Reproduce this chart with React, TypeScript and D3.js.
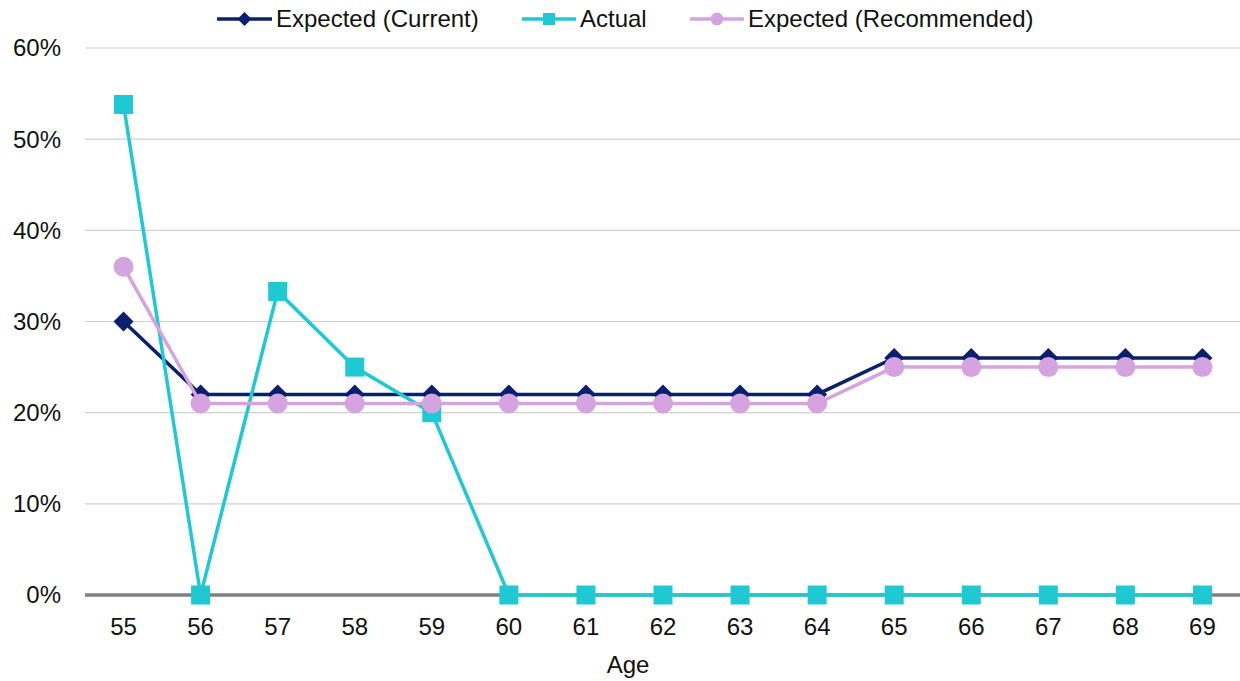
import React from "react";
import * as d3 from "d3";

const ages = ["55","56","57","58","59","60","61","62","63","64","65","66","67","68","69"];
const expectedCurrent = [30, 22, 22, 22, 22, 22, 22, 22, 22, 22, 26, 26, 26, 26, 26];
const actual = [53.8, 0, 33.3, 25, 20, 0, 0, 0, 0, 0, 0, 0, 0, 0, 0];
const expectedRecommended = [36, 21, 21, 21, 21, 21, 21, 21, 21, 21, 25, 25, 25, 25, 25];
const yTicks = [0, 10, 20, 30, 40, 50, 60];

const W = 1240;
const H = 681;
const FONT = "Arial, 'Liberation Sans', sans-serif";
const FS = 24;
const NAVY = "#0b1f6f";
const CYAN = "#1fc9d3";
const LAVENDER = "#d5a3df";

export default function App() {
  const x = d3.scaleBand<string>().domain(ages).range([85, 1241]);
  const y = d3.scaleLinear().domain([0, 60]).range([595, 48]);
  const cx = (a: string) => (x(a) ?? 0) + x.bandwidth() / 2;
  const line = (vals: number[]) =>
    d3.line<number>().x((_, i) => cx(ages[i])).y((v) => y(v))(vals) ?? "";

  const diamond = (px: number, py: number, r: number) =>
    `M${px},${py - r}L${px + r},${py}L${px},${py + r}L${px - r},${py}Z`;

  const legend = [
    { label: "Expected (Current)", color: NAVY, kind: "diamond", x0: 217, x1: 272, tx: 276 },
    { label: "Actual", color: CYAN, kind: "square", x0: 522, x1: 576, tx: 580 },
    { label: "Expected (Recommended)", color: LAVENDER, kind: "circle", x0: 690, x1: 744, tx: 748 },
  ];

  const marker = (kind: string, px: number, py: number, color: string, s: number) => {
    if (kind === "diamond") return <path d={diamond(px, py, s)} fill={color} />;
    if (kind === "square")
      return <rect x={px - s} y={py - s} width={2 * s} height={2 * s} fill={color} />;
    return <circle cx={px} cy={py} r={s} fill={color} />;
  };

  return (
    <svg width={W} height={H} style={{ position: "absolute", left: 0, top: 0, background: "#fff" }}>
      {/* gridlines */}
      {yTicks.filter((t) => t > 0).map((t) => (
        <line key={t} x1={85} x2={1240} y1={y(t)} y2={y(t)} stroke="#d0d0d0" strokeWidth={1.2} />
      ))}
      {/* y tick labels */}
      {yTicks.map((t) => (
        <text key={t} x={61} y={y(t)} dy="0.35em" textAnchor="end" fontFamily={FONT} fontSize={FS} fill="#111">
          {t}%
        </text>
      ))}
      {/* zero axis */}
      <line x1={85} x2={1240} y1={y(0)} y2={y(0)} stroke="#808080" strokeWidth={3.5} />
      {/* x tick labels */}
      {ages.map((a) => (
        <text key={a} x={cx(a)} y={627} dy="0.35em" textAnchor="middle" fontFamily={FONT} fontSize={FS} fill="#111">
          {a}
        </text>
      ))}
      <text x={628} y={665} dy="0.35em" textAnchor="middle" fontFamily={FONT} fontSize={FS} fill="#111">
        Age
      </text>

      {/* series */}
      <path d={line(expectedCurrent)} fill="none" stroke={NAVY} strokeWidth={3.5} />
      {expectedCurrent.map((v, i) => (
        <g key={"c" + i}>{marker("diamond", cx(ages[i]), y(v), NAVY, 10)}</g>
      ))}
      <path d={line(actual)} fill="none" stroke={CYAN} strokeWidth={3.5} />
      {actual.map((v, i) => (
        <g key={"a" + i}>{marker("square", cx(ages[i]), y(v), CYAN, 9.5)}</g>
      ))}
      <path d={line(expectedRecommended)} fill="none" stroke={LAVENDER} strokeWidth={3.5} />
      {expectedRecommended.map((v, i) => (
        <g key={"r" + i}>{marker("circle", cx(ages[i]), y(v), LAVENDER, 10)}</g>
      ))}

      {/* legend */}
      {legend.map((l) => (
        <g key={l.label}>
          <line x1={l.x0} x2={l.x1} y1={19} y2={19} stroke={l.color} strokeWidth={3.5} />
          {marker(l.kind, (l.x0 + l.x1) / 2, 19, l.color, l.kind === "circle" ? 6.5 : l.kind === "square" ? 6 : 7)}
          <text x={l.tx} y={19} dy="0.35em" fontFamily={FONT} fontSize={FS} fill="#111">
            {l.label}
          </text>
        </g>
      ))}
    </svg>
  );
}
